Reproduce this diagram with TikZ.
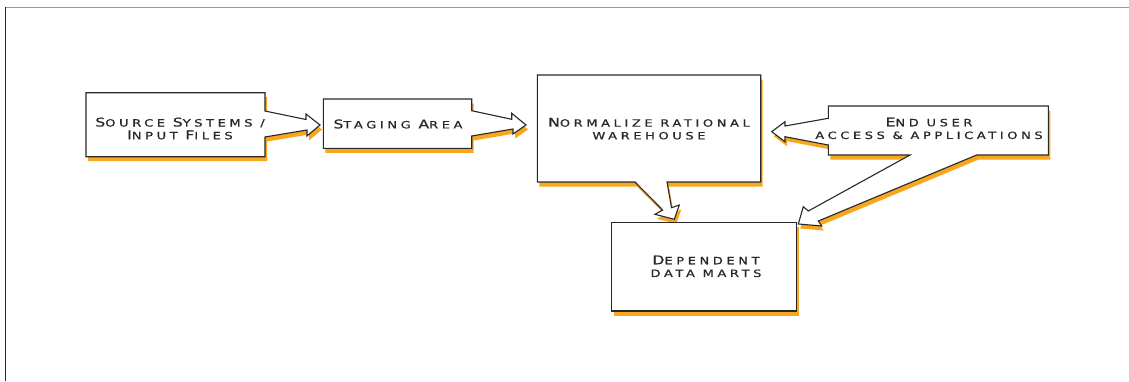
\documentclass[tikz,border=0pt]{standalone}
\usepackage{fontspec}
\newfontfamily\lblfont[FakeStretch=1.3,LetterSpace=36,FakeBold=0.8]{DejaVu Sans}
\definecolor{shade}{RGB}{247,166,30}
\definecolor{ink}{RGB}{40,40,40}
\definecolor{txt}{RGB}{40,40,40}
% larger capital for the fake small-caps lettering
\newcommand\BC[1]{{\fontsize{12pt}{12.7pt}\selectfont #1}}
\tikzset{
  callout/.style={draw=ink, fill=white, line width=1.1pt, line join=miter},
  dropshade/.style={fill=shade, xshift=2pt, yshift=-4.5pt},
  label/.style={text=txt, align=center, inner sep=0pt,
    font=\lblfont\fontsize{10pt}{12.7pt}\selectfont},
  frameline/.style={line width=1pt}
}
\begin{document}
\begin{tikzpicture}[x=1pt,y=-1pt]
\useasboundingbox (0,0) rectangle (1129,381);
% page frame (top and left rules)
\draw[frameline, draw=gray!80] (5,7) -- (1129,7);
\draw[frameline, draw=ink] (5,7) -- (5,381);

% outlines of the callout boxes
\def\srcshape{(86,92.7) -- (265,92.7) -- (265,111) -- (306,119.5) -- (306,114) -- (320,125) -- (307,136) -- (307,130) -- (265,137) -- (265,156.7) -- (86,156.7) -- cycle}
\def\stgshape{(323.3,99) -- (471.7,99) -- (471.7,110.7) -- (511.7,119.3) -- (511.7,113.3) -- (526,125) -- (513,134) -- (513,129) -- (471.7,136) -- (471.7,148.3) -- (323.3,148.3) -- cycle}
\def\nrmshape{(537.3,75) -- (760.7,75) -- (760.7,182) -- (667,182) -- (671.5,207.7) -- (679.3,205) -- (674.3,219.3) -- (655,214.3) -- (662.7,210) -- (635,182) -- (537.3,182) -- cycle}
\def\endshape{(828.3,106) -- (1048.3,106) -- (1048.3,155) -- (976.7,155) -- (818.3,221) -- (821.7,226) -- (798.3,224) -- (803.3,206.7) -- (808.3,211) -- (910,155) -- (828.3,155) -- (828.3,145) -- (785,136.7) -- (785,141.7) -- (771.7,131.7) -- (785,121.7) -- (785,126) -- (828.3,118.3) -- cycle}
\def\depshape{(611.7,222.7) rectangle (796.7,311)}

% orange drop shadows
\fill[dropshade] \depshape;
\fill[dropshade] \srcshape;
\fill[dropshade] \stgshape;
\fill[dropshade] \nrmshape;
\fill[dropshade] \endshape;

% white boxes
\path[callout] \depshape;
\path[callout] \srcshape;
\path[callout] \stgshape;
\path[callout] \nrmshape;
\path[callout] \endshape;

% labels
\node[label] (src) at (180,128.5) {\BC{S}OURCE \BC{S}YSTEMS /\\\BC{I}NPUT \BC{F}ILES};
\node[label] (stg) at (398,124) {\BC{S}TAGING \BC{A}REA};
\node[label] (nrm) at (649,128.7) {\BC{N}ORMALIZE RATIONAL\\WAREHOUSE};
\node[label] (end) at (929,128.3) {\BC{E}ND USER\\ACCESS \& APPLICATIONS};
\node[label] (dep) at (706,266.3) {\BC{D}EPENDENT\\DATA MARTS};
\end{tikzpicture}
\end{document}
